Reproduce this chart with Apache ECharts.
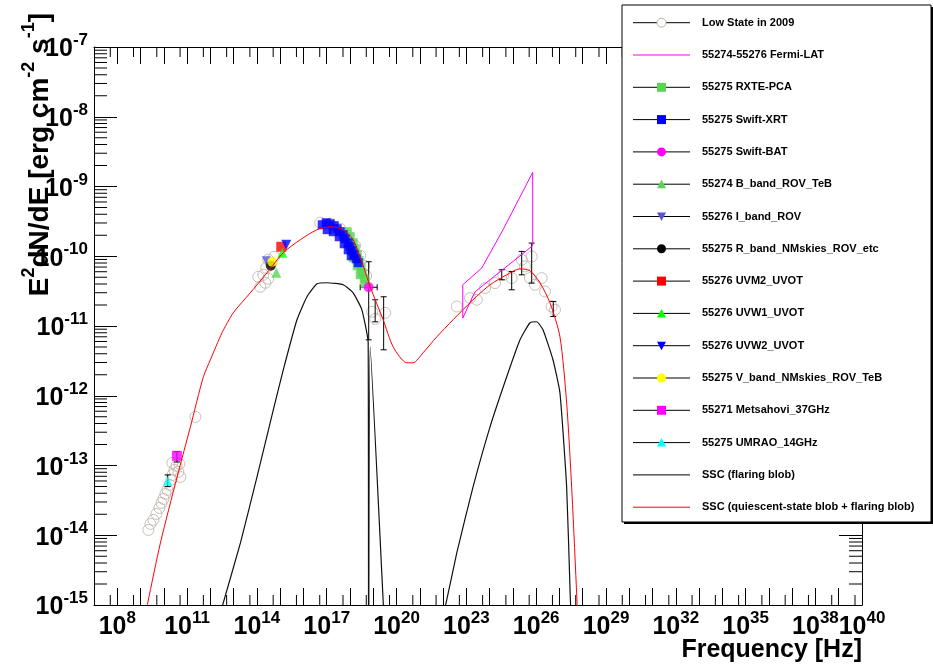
<!DOCTYPE html>
<html>
<head>
<meta charset="utf-8">
<title>SED</title>
<script src="https://cdn.jsdelivr.net/npm/echarts@6.0.0/dist/echarts.min.js"></script>
<style>
  html, body { margin: 0; padding: 0; background: #fff; }
  #chart { width: 933px; height: 666px; }
</style>
</head>
<body>
<div id="chart"></div>
<script>
// every point is [log10(frequency / Hz), log10(E^2 dN/dE / erg cm^-2 s^-1)]
const FONT = "'Liberation Sans', Arial, Helvetica, sans-serif";

const lowState2009 = [
  [9.339, -13.924], [9.425, -13.838], [9.554, -13.78], [9.682, -13.694], [9.811, -13.608],
  [9.897, -13.536], [9.983, -13.479], [10.069, -13.407], [10.155, -13.35], [10.24, -13.278],
  [10.326, -13.206], [10.369, -13.135], [10.455, -13.063], [10.541, -13.005], [10.627, -13.092],
  [10.67, -12.977], [10.712, -13.164], [10.369, -12.962], [11.356, -12.303],
  [14.146, -10.438], [14.06, -10.295], [14.275, -10.266], [14.489, -10.323], [14.403, -10.165],
  [14.618, -10.093], [14.489, -10.05], [14.747, -10.007], [14.361, -10.381],
  [16.721, -9.519], [17.15, -9.534], [17.579, -9.605], [17.923, -9.706], [18.223, -9.849],
  [18.438, -9.993], [18.61, -10.136], [18.695, -10.28],
  [18.953, -10.796], [19.082, -10.897], [19.511, -10.811],
  [22.588, -10.72], [23.159, -10.6], [23.446, -10.624], [23.803, -10.456], [24.232, -10.385],
  [24.588, -10.265], [24.948, -10.313], [25.378, -10.05], [25.519, -10.146], [25.807, -10.003],
  [25.734, -10.313], [25.948, -10.409], [26.236, -10.313], [26.378, -10.505], [26.665, -10.72],
  [26.807, -10.768]
];
// [log nu, low, high]
const lowStateErrors = [
  [19.082, -10.94, -10.624], [19.446, -11.341, -10.581], [24.52, -10.337, -10.194],
  [24.948, -10.481, -10.218], [25.378, -10.266, -9.931], [25.807, -10.385, -9.811],
  [26.734, -10.864, -10.648]
];

const fermiLat = [
  [22.845, -10.887], [22.845, -10.409], [23.661, -10.169], [24.575, -9.62], [25.85, -8.798],
  [25.85, -9.849], [23.373, -10.509], [22.845, -10.887]
];

const rxtePca = [
  [17.88, -9.648], [18.009, -9.72], [18.137, -9.806], [18.223, -9.892], [18.309, -9.978],
  [18.395, -10.064], [18.481, -10.15], [18.524, -10.237], [18.61, -10.323], [18.652, -10.395],
  [18.137, -10.021], [18.309, -10.136], [18.438, -10.265]
];

const swiftXrt = [
  [16.807, -9.548], [16.979, -9.519], [17.15, -9.534], [17.322, -9.562], [17.451, -9.605],
  [17.579, -9.648], [17.708, -9.691], [17.794, -9.749], [17.923, -9.806], [18.009, -9.863],
  [18.094, -9.921], [18.18, -9.978], [18.266, -10.036], [18.352, -10.093], [17.021, -9.619],
  [17.279, -9.648], [17.536, -9.72], [17.751, -9.821], [17.923, -9.907], [18.052, -9.993]
];

const swiftBat = [[18.803, -10.445]];
const swiftBatErrY = [[18.803, -11.198, -10.079]];
const swiftBatErrX = [[-10.445, 18.438, 19.167]];

const bBand = [[14.833, -10.237]];
const iBand = [[14.403, -10.064]];
const rBand = [[14.597, -10.136]];
const uvm2 = [[15.047, -9.864]];
const uvw1 = [[15.09, -9.95]];
const uvw2 = [[15.262, -9.835]];
const vBand = [[14.661, -10.079]];
const metsahovi = [[10.562, -12.862]];
const umrao = [[10.167, -13.221]];
const radioErrors = [[10.562, -12.95, -12.8], [10.167, -13.303, -13.135]];

const sscFlaring = [
  [12.43, -15.14], [12.502, -15.03], [13.292, -14.11], [14.004, -13.164], [14.704, -12.203],
  [15.133, -11.629], [15.721, -10.911], [16.15, -10.581], [16.58, -10.395], [17.009, -10.38],
  [17.708, -10.409], [18.137, -10.524], [18.511, -10.768], [18.781, -11.241], [18.8, -17],
  [18.867, -11.298], [19.438, -15.03], [19.46, -15.14], [21.98, -15.14], [22.09, -15.03],
  [22.588, -14.254], [23.288, -13.307], [24.017, -12.446], [24.734, -11.728], [25.305, -11.197],
  [25.734, -10.953], [26.021, -10.939], [26.292, -11.054], [26.721, -11.484], [27.021, -11.958],
  [27.309, -13.307], [27.451, -14.742], [27.48, -15.03], [27.49, -15.14]
];

const sscTotal = [
  [9.21, -15.15], [9.309, -14.971], [9.854, -14.11], [10.571, -13.164], [11.142, -12.446],
  [11.7, -11.728], [12.0, -11.485], [12.502, -11.097], [12.987, -10.81], [13.717, -10.524],
  [14.433, -10.237], [15.133, -9.95], [15.863, -9.763], [16.58, -9.62], [17.155, -9.577],
  [17.708, -9.62], [18.137, -9.763], [18.567, -10.136], [18.867, -10.437], [19.425, -10.911],
  [19.854, -11.298], [20.442, -11.528], [20.712, -11.528], [21.142, -11.384], [21.73, -11.155],
  [22.429, -10.911], [23.288, -10.624], [24.017, -10.409], [24.734, -10.266], [25.305, -10.18],
  [25.734, -10.208], [26.163, -10.38], [26.592, -10.667], [27.021, -11.155], [27.309, -12.102],
  [27.524, -13.307], [27.738, -14.828], [27.77, -15.14]
];

const xLabelExponents = [8, 11, 14, 17, 20, 23, 26, 29, 32, 35, 38, 40];

const legendNames = [
  'Low State in 2009', '55274-55276 Fermi-LAT', '55275 RXTE-PCA', '55275 Swift-XRT',
  '55275 Swift-BAT', '55274 B_band_ROV_TeB', '55276 I_band_ROV', '55275 R_band_NMskies_ROV_etc',
  '55276 UVM2_UVOT', '55276 UVW1_UVOT', '55276 UVW2_UVOT', '55275 V_band_NMskies_ROV_TeB',
  '55271 Metsahovi_37GHz', '55275 UMRAO_14GHz', 'SSC (flaring blob)',
  'SSC (quiescent-state blob + flaring blob)'
];

// marker style per legend entry
const GRAY = '#b9b1a8';
const styles = [
  { mk: 'ocircle', color: GRAY },
  { line: '#ff00ff' },
  { mk: 'square', color: '#59d454' },
  { mk: 'square', color: '#0000ff' },
  { mk: 'circle', color: '#ff00ff' },
  { mk: 'up', color: '#59d454' },
  { mk: 'down', color: '#5954d8' },
  { mk: 'circle', color: '#000000' },
  { mk: 'square', color: '#ff0000' },
  { mk: 'up', color: '#00ff00' },
  { mk: 'down', color: '#0000ff' },
  { mk: 'circle', color: '#ffff00' },
  { mk: 'square', color: '#ff00ff' },
  { mk: 'up', color: '#00ffff' },
  { line: '#000000' },
  { line: '#ff0000' }
];

// axis tick marks (log sub-divisions), axis decoration only
const minorTicks = [];
for (let d = 7; d < 40; d++) minorTicks.push([d + Math.log10(5), -15, 0]);
for (let d = -15; d < -7; d++) {
  for (let m = 2; m <= 9; m++) minorTicks.push([7, d + Math.log10(m), 1]);
}

function renderMinorTick(params, api) {
  const black = { stroke: '#000', lineWidth: 1 };
  if (api.value(2) === 0) {
    const v = api.value(0);
    const b = api.coord([v, -15]);
    const t = api.coord([v, -7]);
    return { type: 'group', children: [
      { type: 'line', shape: { x1: b[0], y1: b[1], x2: b[0], y2: b[1] - 10 }, style: black },
      { type: 'line', shape: { x1: t[0], y1: t[1], x2: t[0], y2: t[1] + 10 }, style: black }
    ] };
  }
  const v = api.value(1);
  const l = api.coord([7, v]);
  const r = api.coord([40, v]);
  return { type: 'group', children: [
    { type: 'line', shape: { x1: l[0], y1: l[1], x2: l[0] + 13, y2: l[1] }, style: black },
    { type: 'line', shape: { x1: r[0], y1: r[1], x2: r[0] - 13, y2: r[1] }, style: black }
  ] };
}

function renderYErr(params, api) {
  const x = api.value(0);
  const lo = api.coord([x, api.value(1)]);
  const hi = api.coord([x, api.value(2)]);
  const s = { stroke: '#000', lineWidth: 1 };
  return { type: 'group', children: [
    { type: 'line', shape: { x1: lo[0], y1: lo[1], x2: hi[0], y2: hi[1] }, style: s },
    { type: 'line', shape: { x1: lo[0] - 3, y1: lo[1], x2: lo[0] + 3, y2: lo[1] }, style: s },
    { type: 'line', shape: { x1: hi[0] - 3, y1: hi[1], x2: hi[0] + 3, y2: hi[1] }, style: s }
  ] };
}

function renderXErr(params, api) {
  const y = api.value(0);
  const lo = api.coord([api.value(1), y]);
  const hi = api.coord([api.value(2), y]);
  const s = { stroke: '#000', lineWidth: 1 };
  return { type: 'group', children: [
    { type: 'line', shape: { x1: lo[0], y1: lo[1], x2: hi[0], y2: hi[1] }, style: s },
    { type: 'line', shape: { x1: lo[0], y1: lo[1] - 3, x2: lo[0], y2: lo[1] + 3 }, style: s },
    { type: 'line', shape: { x1: hi[0], y1: hi[1] - 3, x2: hi[0], y2: hi[1] + 3 }, style: s }
  ] };
}

function markers(name, data, st, size, z) {
  const s = {
    name: name, type: 'scatter', data: data, z: z || 4, silent: true,
    symbolSize: size,
    itemStyle: { color: st.color }
  };
  if (st.mk === 'square') s.symbol = 'rect';
  if (st.mk === 'circle') s.symbol = 'circle';
  if (st.mk === 'up') s.symbol = 'triangle';
  if (st.mk === 'down') { s.symbol = 'triangle'; s.symbolRotate = 180; }
  if (st.mk === 'ocircle') {
    s.symbol = 'circle';
    s.itemStyle = { color: 'rgba(0,0,0,0)', borderColor: st.color, borderWidth: 1 };
  }
  return s;
}

const supRich = {
  b: { fontSize: 25, fontWeight: 'bold', fontFamily: FONT, color: '#000', verticalAlign: 'bottom', lineHeight: 30 },
  e: { fontSize: 17, fontWeight: 'bold', fontFamily: FONT, color: '#000', verticalAlign: 'top', lineHeight: 30 }
};

function axisPair(isX) {
  const base = {
    type: 'value', min: isX ? 7 : -15, max: isX ? 40 : -7, interval: 1,
    splitLine: { show: false },
    axisLine: { show: true, lineStyle: { color: '#000', width: 1 } },
    axisTick: { show: true, inside: true, length: isX ? 17 : 23, lineStyle: { color: '#000', width: 1 } }
  };
  const main = Object.assign({}, base, {
    position: isX ? 'bottom' : 'left',
    axisLabel: {
      margin: isX ? 5 : 6,
      formatter: function (v) {
        const e = Math.round(v);
        if (isX && xLabelExponents.indexOf(e) < 0) return '';
        return '{b|10}{e|' + e + '}';
      },
      rich: supRich
    }
  });
  const twin = Object.assign({}, base, { position: isX ? 'top' : 'right', axisLabel: { show: false } });
  return [main, twin];
}

const series = [
  { type: 'custom', name: 'ticks', data: minorTicks, renderItem: renderMinorTick, silent: true, z: 3,
    encode: { x: 0, y: 1 } },
  markers('Low State in 2009', lowState2009, styles[0], 11, 2),
  { type: 'custom', name: 'lowErr', data: lowStateErrors, renderItem: renderYErr, silent: true, z: 3,
    encode: { x: 0, y: [1, 2] } },
  { type: 'line', name: legendNames[1], data: fermiLat, showSymbol: false, symbol: 'none', z: 5,
    lineStyle: { color: '#ff00ff', width: 1 }, silent: true },
  markers(legendNames[2], rxtePca, styles[2], 9),
  markers(legendNames[3], swiftXrt, styles[3], 9),
  { type: 'custom', name: 'batErrY', data: swiftBatErrY, renderItem: renderYErr, silent: true, z: 4,
    encode: { x: 0, y: [1, 2] } },
  { type: 'custom', name: 'batErrX', data: swiftBatErrX, renderItem: renderXErr, silent: true, z: 4,
    encode: { y: 0, x: [1, 2] } },
  markers(legendNames[4], swiftBat, styles[4], 10),
  markers(legendNames[5], bBand, styles[5], 10),
  markers(legendNames[6], iBand, styles[6], 9),
  markers(legendNames[7], rBand, styles[7], 10),
  markers(legendNames[8], uvm2, styles[8], 10),
  markers(legendNames[9], uvw1, styles[9], 10),
  markers(legendNames[10], uvw2, styles[10], 10),
  markers(legendNames[11], vBand, styles[11], 10),
  { type: 'custom', name: 'radioErr', data: radioErrors, renderItem: renderYErr, silent: true, z: 4,
    encode: { x: 0, y: [1, 2] } },
  markers(legendNames[12], metsahovi, styles[12], 10),
  markers(legendNames[13], umrao, styles[13], 9),
  { type: 'line', name: legendNames[14], data: sscFlaring, showSymbol: false, symbol: 'none', z: 6,
    lineStyle: { color: '#111', width: 1.2 }, silent: true, smooth: 0.15 },
  { type: 'line', name: legendNames[15], data: sscTotal, showSymbol: false, symbol: 'none', z: 7,
    lineStyle: { color: '#ff0000', width: 1 }, silent: true, smooth: 0.25 }
];

// legend box drawn ROOT style: line with the marker in its middle
const LEG = { x: 622, y: 5, w: 309, h: 517, row0: 22.7, step: 32.3, lx1: 633, lx2: 690, mx: 661.5, tx: 702 };
const graphics = [
  { type: 'rect', z: 100, shape: { x: LEG.x + 2, y: LEG.y + 2, width: LEG.w, height: LEG.h },
    style: { fill: '#000' } },
  { type: 'rect', z: 100, shape: { x: LEG.x, y: LEG.y, width: LEG.w, height: LEG.h },
    style: { fill: '#fff', stroke: '#000', lineWidth: 1 } }
];
legendNames.forEach(function (name, i) {
  const y = LEG.row0 + i * LEG.step;
  const st = styles[i];
  graphics.push({ type: 'line', z: 101,
    shape: { x1: LEG.lx1, y1: y, x2: LEG.lx2, y2: y },
    style: { stroke: st.line || '#000', lineWidth: 1 } });
  const c = st.color;
  if (st.mk === 'ocircle') {
    graphics.push({ type: 'circle', z: 102, shape: { cx: LEG.mx, cy: y, r: 4.5 },
      style: { fill: '#fff', stroke: c, lineWidth: 1 } });
  } else if (st.mk === 'circle') {
    graphics.push({ type: 'circle', z: 102, shape: { cx: LEG.mx, cy: y, r: 4.5 }, style: { fill: c } });
  } else if (st.mk === 'square') {
    graphics.push({ type: 'rect', z: 102, shape: { x: LEG.mx - 4.5, y: y - 4.5, width: 9, height: 9 }, style: { fill: c } });
  } else if (st.mk === 'up') {
    graphics.push({ type: 'polygon', z: 102,
      shape: { points: [[LEG.mx - 4.5, y + 4], [LEG.mx + 4.5, y + 4], [LEG.mx, y - 4.5]] }, style: { fill: c } });
  } else if (st.mk === 'down') {
    graphics.push({ type: 'polygon', z: 102,
      shape: { points: [[LEG.mx - 4.5, y - 4], [LEG.mx + 4.5, y - 4], [LEG.mx, y + 4.5]] }, style: { fill: c } });
  }
  graphics.push({ type: 'text', z: 102, x: LEG.tx, y: y,
    style: { text: name, fill: '#000', font: 'bold 11px ' + FONT, verticalAlign: 'middle', align: 'left' } });
});

// axis titles
graphics.push({ type: 'text', z: 50, x: 37, y: 13, rotation: Math.PI / 2,
  style: {
    text: '{t|E}{s|2}{t|dN/dE [erg cm}{s|-2}{t| s}{s|-1}{t|]}',
    align: 'right', verticalAlign: 'middle',
    rich: {
      t: { fontSize: 28, fontWeight: 'bold', fontFamily: FONT, fill: '#000', verticalAlign: 'bottom', lineHeight: 34 },
      s: { fontSize: 18, fontWeight: 'bold', fontFamily: FONT, fill: '#000', verticalAlign: 'top', lineHeight: 34 }
    }
  } });
graphics.push({ type: 'text', z: 50, x: 862, y: 650,
  style: { text: 'Frequency [Hz]', font: 'bold 25px ' + FONT, fill: '#000', align: 'right', verticalAlign: 'middle' } });

const chart = echarts.init(document.getElementById('chart'), null, { renderer: 'canvas' });
chart.setOption({
  backgroundColor: '#fff',
  animation: false,
  grid: { left: 94, right: 71, top: 47, bottom: 61, show: false },
  xAxis: axisPair(true),
  yAxis: axisPair(false),
  series: series,
  graphic: graphics
});
</script>
</body>
</html>
